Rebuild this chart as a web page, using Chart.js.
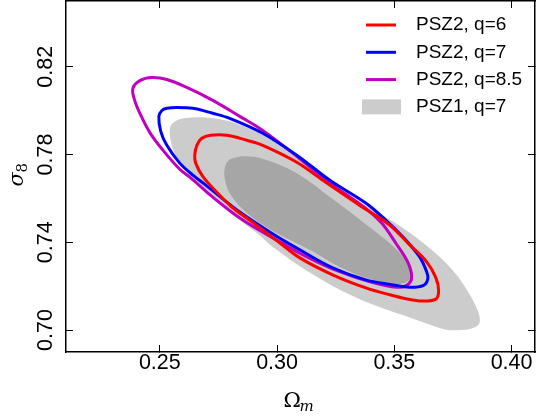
<!DOCTYPE html>
<html>
<head>
<meta charset="utf-8">
<script src="https://cdn.jsdelivr.net/npm/chart.js@4"></script>
<style>
  html, body { margin: 0; padding: 0; background: #fff; }
</style>
</head>
<body>
<canvas id="chart" width="536" height="417"></canvas>
<script>
// Axis ranges and tick labels
const omegaRange = [0.21, 0.41];
const sigmaRange = [0.69, 0.85];
const omegaTicks = [0.25, 0.30, 0.35, 0.40];
const sigmaTicks = [0.70, 0.74, 0.78, 0.82];

const seriesLabels = ['PSZ2, q=6', 'PSZ2, q=7', 'PSZ2, q=8.5', 'PSZ1, q=7'];

// Closed contours, [Omega_m, sigma_8]
const psz2q6 = [
  [0.3084, 0.7765], [0.3195, 0.7683], [0.3289, 0.7615], [0.3370, 0.7556], [0.3480, 0.7479],
  [0.3566, 0.7388], [0.3638, 0.7311], [0.3677, 0.7239], [0.3689, 0.7179], [0.3677, 0.7141],
  [0.3617, 0.7132], [0.3549, 0.7143], [0.3480, 0.7161], [0.3382, 0.7191], [0.3237, 0.7252],
  [0.3097, 0.7329], [0.3012, 0.7397], [0.2905, 0.7484], [0.2807, 0.7561], [0.2747, 0.7624],
  [0.2683, 0.7701], [0.2653, 0.7761], [0.2649, 0.7797], [0.2658, 0.7842], [0.2679, 0.7874],
  [0.2717, 0.7888], [0.2786, 0.7888], [0.2871, 0.7865], [0.2939, 0.7842]
];
const psz2q7 = [
  [0.3084, 0.7797], [0.3225, 0.7683], [0.3378, 0.7579], [0.3459, 0.7506], [0.3536, 0.7425],
  [0.3608, 0.7334], [0.3638, 0.7266], [0.3643, 0.7234], [0.3625, 0.7204], [0.3566, 0.7195],
  [0.3489, 0.7207], [0.3378, 0.7229], [0.3237, 0.7284], [0.3097, 0.7366], [0.2982, 0.7438],
  [0.2841, 0.7538], [0.2696, 0.7661], [0.2641, 0.7706], [0.2585, 0.7761], [0.2530, 0.7842],
  [0.2504, 0.7906], [0.2496, 0.7974], [0.2509, 0.8001], [0.2530, 0.8011], [0.2572, 0.8015],
  [0.2641, 0.8011], [0.2726, 0.7988], [0.2798, 0.7965], [0.2939, 0.7897]
];
const psz2q85 = [
  [0.3084, 0.7792], [0.3225, 0.7670], [0.3370, 0.7561], [0.3446, 0.7488], [0.3506, 0.7397],
  [0.3557, 0.7311], [0.3574, 0.7243], [0.3557, 0.7207], [0.3510, 0.7195], [0.3408, 0.7216],
  [0.3267, 0.7266], [0.3127, 0.7334], [0.2982, 0.7420], [0.2841, 0.7511], [0.2726, 0.7606],
  [0.2628, 0.7697], [0.2585, 0.7733], [0.2513, 0.7820], [0.2457, 0.7901], [0.2415, 0.7988],
  [0.2393, 0.8047], [0.2385, 0.8101], [0.2415, 0.8137], [0.2466, 0.8151], [0.2530, 0.8142],
  [0.2615, 0.8106], [0.2726, 0.8047], [0.2841, 0.7974], [0.2939, 0.7910]
];
// PSZ1 q=7: outer (light) and inner (dark) regions
const psz1Outer = [
  [0.3097, 0.7774], [0.3237, 0.7661], [0.3395, 0.7556], [0.3523, 0.7475], [0.3664, 0.7361],
  [0.3758, 0.7261], [0.3809, 0.7184], [0.3847, 0.7111], [0.3864, 0.7057], [0.3860, 0.7025],
  [0.3830, 0.7007], [0.3779, 0.7000], [0.3715, 0.7003], [0.3566, 0.7057], [0.3408, 0.7116],
  [0.3267, 0.7184], [0.3127, 0.7270], [0.2982, 0.7379], [0.2914, 0.7443], [0.2862, 0.7484],
  [0.2798, 0.7538], [0.2726, 0.7615], [0.2653, 0.7683], [0.2585, 0.7761], [0.2551, 0.7842],
  [0.2543, 0.7919], [0.2560, 0.7947], [0.2594, 0.7963], [0.2636, 0.7969], [0.2700, 0.7969],
  [0.2811, 0.7947], [0.2952, 0.7883]
];
const psz1Inner = [
  [0.3084, 0.7715], [0.3237, 0.7597], [0.3421, 0.7447], [0.3493, 0.7384], [0.3544, 0.7325],
  [0.3570, 0.7275], [0.3570, 0.7239], [0.3544, 0.7216], [0.3506, 0.7211], [0.3408, 0.7229],
  [0.3267, 0.7288], [0.3139, 0.7366], [0.2982, 0.7452], [0.2871, 0.7534], [0.2798, 0.7624],
  [0.2777, 0.7692], [0.2777, 0.7738], [0.2790, 0.7770], [0.2820, 0.7785], [0.2862, 0.7792],
  [0.2939, 0.7781]
];

const toPoints = (arr) => arr.map(p => ({ x: p[0], y: p[1] }));

function contourLine(label, data, color) {
  return {
    label: label,
    data: toPoints(data),
    showLine: true,
    spanGaps: true,
    fill: false,
    borderColor: color,
    borderWidth: 3,
    borderJoinStyle: 'round',
    tension: 0.35,
    pointRadius: 0
  };
}

function contourFill(label, data, color) {
  return {
    label: label,
    data: toPoints(data),
    showLine: true,
    spanGaps: true,
    fill: 'shape',
    backgroundColor: color,
    borderColor: color,
    borderWidth: 0,
    tension: 0.35,
    pointRadius: 0
  };
}

// make every line a closed, smooth loop (like radar lines)
const closedContours = {
  id: 'closedContours',
  afterDatasetUpdate(chart, args) {
    const line = args.meta.dataset;
    if (line) {
      line._loop = true;
      line._fullLoop = true;
    }
  }
};

const font = '"Liberation Sans", Arial, Helvetica, sans-serif';
const tickFont = { family: font, size: 21.5 };

// inward ticks on every side of the frame
function frameAxis(position, range, ticks, showLabels) {
  const horizontal = position === 'top' || position === 'bottom';
  return {
    type: 'linear',
    position: position,
    min: range[0],
    max: range[1],
    afterBuildTicks: (scale) => {
      scale.ticks = ticks.map(v => ({ value: v }));
    },
    ticks: {
      display: showLabels,
      font: tickFont,
      color: '#000',
      padding: horizontal ? 18 : 6,
      minRotation: horizontal ? 0 : 90,
      maxRotation: horizontal ? 0 : 90,
      crossAlign: 'center',
      callback: (v) => v.toFixed(2)
    },
    grid: {
      drawOnChartArea: false,
      tickLength: -7,
      tickColor: '#000',
      tickWidth: 1
    },
    border: { display: true, color: '#000', width: 1.5 },
    afterFit: (scale) => {
      if (position === 'bottom') scale.height = 65;
      if (position === 'top') scale.height = 1;
      if (position === 'left') scale.width = 66;
      if (position === 'right') scale.width = 1;
      // no extra room for overhanging labels
      scale.paddingLeft = 0;
      scale.paddingRight = 0;
      scale.paddingTop = 0;
      scale.paddingBottom = 0;
    }
  };
}

// legend in the upper right corner of the plot
const cornerLegend = {
  id: 'cornerLegend',
  afterDatasetsDraw(chart) {
    const ctx = chart.ctx;
    ctx.save();
    ctx.font = '19px ' + font;
    ctx.textBaseline = 'middle';
    let row = 0;
    chart.data.datasets.forEach(ds => {
      if (!ds.label) return;
      const y = 25 + row * 27.3;
      if (ds.fill) {
        ctx.fillStyle = ds.backgroundColor;
        ctx.fillRect(362, y - 7.5, 39, 15);
      } else {
        ctx.strokeStyle = ds.borderColor;
        ctx.lineWidth = 3;
        ctx.beginPath();
        ctx.moveTo(366, y);
        ctx.lineTo(396, y);
        ctx.stroke();
      }
      ctx.fillStyle = '#000';
      ctx.fillText(ds.label, 416, y);
      row++;
    });
    ctx.restore();
  }
};

// axis titles with subscripts
const axisTitles = {
  id: 'axisTitles',
  afterDraw(chart) {
    const ctx = chart.ctx;
    const area = chart.chartArea;
    const cx = (area.left + area.right) / 2;
    const cy = (area.top + area.bottom) / 2;
    ctx.save();
    ctx.fillStyle = '#000';
    ctx.textBaseline = 'alphabetic';
    ctx.textAlign = 'left';

    ctx.font = '21px "DejaVu Serif", serif';
    ctx.fillText('\u03A9', cx - 17, 407);
    ctx.font = 'italic 15px "DejaVu Serif", serif';
    ctx.fillText('m', cx - 1, 411);

    ctx.translate(23, cy + 10);
    ctx.rotate(-Math.PI / 2);
    ctx.font = 'italic 21px "DejaVu Serif", serif';
    ctx.fillText('\u03C3', 0, 0);
    ctx.font = '15px "DejaVu Serif", serif';
    ctx.fillText('8', 14, 4);
    ctx.restore();
  }
};

new Chart(document.getElementById('chart'), {
  type: 'scatter',
  data: {
    datasets: [
      contourLine(seriesLabels[0], psz2q6, '#ff0000'),
      contourLine(seriesLabels[1], psz2q7, '#0000ff'),
      contourLine(seriesLabels[2], psz2q85, '#bf00bf'),
      contourFill('', psz1Inner, '#a6a6a6'),
      contourFill(seriesLabels[3], psz1Outer, '#cccccc')
    ]
  },
  options: {
    responsive: false,
    animation: false,
    devicePixelRatio: 1,
    layout: { padding: 0, autoPadding: false },
    scales: {
      x: frameAxis('bottom', omegaRange, omegaTicks, true),
      y: frameAxis('left', sigmaRange, sigmaTicks, true),
      x2: frameAxis('top', omegaRange, omegaTicks, false),
      y2: frameAxis('right', sigmaRange, sigmaTicks, false)
    },
    plugins: {
      legend: { display: false },
      tooltip: { enabled: false }
    }
  },
  plugins: [closedContours, cornerLegend, axisTitles]
});
</script>
</body>
</html>
